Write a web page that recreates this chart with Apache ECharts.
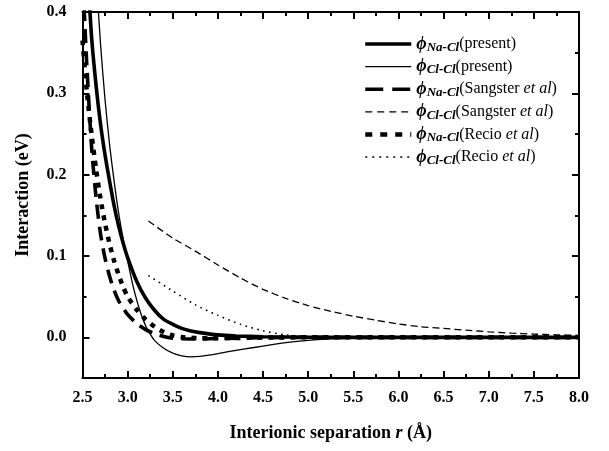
<!DOCTYPE html>
<html>
<head>
<meta charset="utf-8">
<script src="https://cdn.jsdelivr.net/npm/echarts@6/dist/echarts.min.js"></script>
<style>html,body{margin:0;padding:0;background:#fff}#c{width:609px;height:451px}</style>
</head>
<body>
<div id="c"></div>
<script>
// ---- data (r in Å, interaction in eV) ----
const naclPresentR = [2.55, 2.6, 2.65, 2.7, 2.75, 2.8, 2.85, 2.9, 2.95, 3.0, 3.1, 3.2, 3.3, 3.4, 3.5, 3.6, 3.7, 3.8, 4.0, 4.2, 4.5, 5.0, 5.5, 6.0, 7.0, 8.0];
const naclPresentV = [0.46, 0.37, 0.31, 0.262, 0.224, 0.192, 0.162, 0.137, 0.116, 0.098, 0.069, 0.048, 0.033, 0.022, 0.016, 0.011, 0.0078, 0.0058, 0.003, 0.0017, 0.0007, 0.0001, 0, 0, 0, 0];

const clclPresentR = [2.66, 2.7, 2.75, 2.8, 2.85, 2.9, 2.95, 3.0, 3.05, 3.1, 3.15, 3.2, 3.25, 3.3, 3.4, 3.5, 3.6, 3.7, 3.8, 3.9, 4.0, 4.2, 4.4, 4.6, 4.8, 5.0, 5.2, 5.5, 6.0, 7.0, 8.0];
const clclPresentV = [0.43, 0.36, 0.292, 0.237, 0.192, 0.153, 0.121, 0.094, 0.068, 0.046, 0.028, 0.014, 0.004, -0.004, -0.0135, -0.0195, -0.0228, -0.024, -0.0235, -0.022, -0.020, -0.016, -0.0125, -0.009, -0.006, -0.0037, -0.0022, -0.0009, -0.0002, 0, 0];

const naclSangsterR = [2.5, 2.52, 2.55, 2.6, 2.65, 2.7, 2.75, 2.8, 2.85, 2.9, 2.95, 3.0, 3.1, 3.2, 3.3, 3.4, 3.5, 3.6, 3.8, 4.0, 4.5, 5.0, 6.0, 7.0, 8.0];
const naclSangsterV = [0.46, 0.40, 0.33, 0.235, 0.172, 0.127, 0.097, 0.075, 0.058, 0.045, 0.036, 0.028, 0.017, 0.0095, 0.0045, 0.001, -0.001, -0.0018, -0.002, -0.0015, -0.0005, 0, 0, 0, 0];

const clclSangsterR = [3.23, 3.5, 3.75, 4.0, 4.25, 4.5, 4.75, 5.0, 5.25, 5.5, 5.75, 6.0, 6.25, 6.5, 6.75, 7.0, 7.25, 7.5, 7.75, 8.0];
const clclSangsterV = [0.143, 0.122, 0.106, 0.089, 0.073, 0.059, 0.048, 0.039, 0.032, 0.026, 0.021, 0.0165, 0.013, 0.011, 0.0088, 0.0068, 0.0052, 0.0040, 0.0031, 0.0025];

const naclRecioR = [2.5, 2.55, 2.6, 2.65, 2.7, 2.75, 2.8, 2.85, 2.9, 2.95, 3.0, 3.1, 3.2, 3.3, 3.4, 3.5, 3.6, 3.8, 4.0, 4.5, 5.0, 6.0, 7.0, 8.0];
const naclRecioV = [0.365, 0.30, 0.25, 0.207, 0.17, 0.14, 0.115, 0.094, 0.077, 0.062, 0.050, 0.034, 0.022, 0.013, 0.0065, 0.0025, 0.0003, -0.001, -0.001, -0.0003, 0, 0, 0, 0];

const clclRecioR = [3.23, 3.5, 3.75, 4.0, 4.25, 4.5, 4.75, 5.0, 5.25, 5.5];
const clclRecioV = [0.076, 0.057, 0.040, 0.027, 0.016, 0.008, 0.003, 0.001, 0.0003, 0];

const xMin = 2.5, xMax = 8.0, xStep = 0.5;
const yMin = -0.05, yMax = 0.4;
const yMajorTicks = [0, 0.1, 0.2, 0.3, 0.4];
const yMinorTicks = [0.05, 0.15, 0.25, 0.35];

const seriesNames = ['NaCl present', 'ClCl present', 'NaCl Sangster', 'ClCl Sangster', 'NaCl Recio', 'ClCl Recio'];
const legendSubs = ['Na-Cl', 'Cl-Cl', 'Na-Cl', 'Cl-Cl', 'Na-Cl', 'Cl-Cl'];
const legendRefs = ['present', 'present', 'Sangster', 'Sangster', 'Recio', 'Recio'];

// ---- chart ----
const FONT = '"Liberation Serif", "Times New Roman", serif';
const pairs = (r, v) => r.map((x, i) => [x, v[i]]);

const styles = [
  { width: 3.6, type: 'solid', legendType: 'solid' },
  { width: 1.3, type: 'solid', legendType: 'solid' },
  { width: 3.6, type: [14, 8], legendType: [18, 9] },
  { width: 1.3, type: [7, 4], legendType: [7, 5] },
  { width: 4.5, type: [5, 6], legendType: [7, 8] },
  { width: 1.6, type: [1.6, 4.5], legendType: [2, 5] }
];
const datasets = [
  pairs(naclPresentR, naclPresentV),
  pairs(clclPresentR, clclPresentV),
  pairs(naclSangsterR, naclSangsterV),
  pairs(clclSangsterR, clclSangsterV),
  pairs(naclRecioR, naclRecioV),
  pairs(clclRecioR, clclRecioV)
];

const series = seriesNames.map((n, i) => ({
  name: n,
  type: 'line',
  data: datasets[i],
  xAxisIndex: 0,
  yAxisIndex: 0,
  showSymbol: false,
  symbol: 'none',
  smooth: 0.25,
  clip: true,
  lineStyle: { color: '#000', width: styles[i].width, type: styles[i].type, cap: 'butt' },
  itemStyle: { color: '#000' },
  z: 3
}));

const axisLineStyle = { show: true, onZero: false, lineStyle: { color: '#000', width: 2 } };
const labelStyle = { color: '#000', fontFamily: FONT, fontWeight: 'bold', fontSize: 16 };

function yAxisDef(pos, ticks, len, showLabel) {
  return {
    type: 'value', position: pos, min: yMin, max: yMax, interval: 0.05,
    axisLine: axisLineStyle,
    axisTick: { show: true, inside: true, length: len, customValues: ticks, lineStyle: { color: '#000', width: 2 } },
    axisLabel: showLabel ? Object.assign({ show: true, margin: 16, customValues: yMajorTicks, formatter: v => v.toFixed(1) }, labelStyle) : { show: false },
    splitLine: { show: false },
    name: showLabel ? 'Interaction (eV)' : '',
    nameLocation: 'middle',
    nameGap: 50,
    nameRotate: 90,
    nameTextStyle: { color: '#000', fontFamily: FONT, fontWeight: 'bold', fontSize: 18 }
  };
}

const option = {
  animation: false,
  backgroundColor: '#fff',
  grid: { left: 82.5, right: 30, top: 12, bottom: 73 },
  xAxis: [
    {
      type: 'value', position: 'bottom', min: xMin, max: xMax, interval: xStep,
      axisLine: axisLineStyle,
      axisTick: { show: true, inside: true, length: 7, lineStyle: { color: '#000', width: 2 } },
      minorTick: { show: true, splitNumber: 2, length: 4, lineStyle: { color: '#000', width: 2 } },
      axisLabel: Object.assign({ margin: 12, formatter: v => v.toFixed(1) }, labelStyle),
      splitLine: { show: false },
      name: '{b|Interionic separation }{i|r}{b| (Å)}',
      nameLocation: 'middle',
      nameGap: 46,
      nameTextStyle: {
        rich: {
          b: { color: '#000', fontFamily: FONT, fontWeight: 'bold', fontSize: 18 },
          i: { color: '#000', fontFamily: FONT, fontWeight: 'bold', fontStyle: 'italic', fontSize: 18 }
        }
      }
    },
    {
      type: 'value', position: 'top', min: xMin, max: xMax, interval: xStep,
      axisLine: axisLineStyle,
      axisTick: { show: true, inside: true, length: 7, lineStyle: { color: '#000', width: 2 } },
      minorTick: { show: true, splitNumber: 2, length: 4, lineStyle: { color: '#000', width: 2 } },
      axisLabel: { show: false },
      splitLine: { show: false }
    }
  ],
  yAxis: [
    yAxisDef('left', yMajorTicks, 7, true),
    yAxisDef('left', yMinorTicks, 4, false),
    yAxisDef('right', yMajorTicks, 7, false),
    yAxisDef('right', yMinorTicks, 4, false)
  ],
  legend: {
    orient: 'vertical',
    left: 358,
    top: 30,
    itemWidth: 46,
    itemHeight: 14,
    itemGap: 3.6,
    itemStyle: { color: 'rgba(0,0,0,0)', opacity: 0, borderWidth: 0 },
    lineStyle: { width: 'inherit', cap: 'butt' },
    data: seriesNames.map((n, i) => ({
      name: n,
      itemStyle: { color: 'rgba(0,0,0,0)', opacity: 0, borderWidth: 0 },
      lineStyle: { color: '#000', width: styles[i].width, type: styles[i].legendType, cap: 'butt', opacity: 1 }
    })),
    formatter: function (name) {
      const i = seriesNames.indexOf(name);
      const ref = legendRefs[i];
      let tail = ref === 'present' ? '{n|(present)}' : '{n|(' + ref + ' }{it|et al}{n|)}';
      return '{phi|\u03D5}{sub|' + legendSubs[i] + '}' + tail;
    },
    textStyle: {
      rich: {
        phi: { fontFamily: FONT, fontStyle: 'italic', fontWeight: 'bold', fontSize: 18, color: '#000', lineHeight: 20, verticalAlign: 'middle' },
        sub: { fontFamily: FONT, fontStyle: 'italic', fontWeight: 'bold', fontSize: 13, color: '#000', lineHeight: 20, verticalAlign: 'bottom' },
        n: { fontFamily: FONT, fontSize: 16, color: '#000', lineHeight: 20, verticalAlign: 'middle' },
        it: { fontFamily: FONT, fontStyle: 'italic', fontSize: 16, color: '#000', lineHeight: 20, verticalAlign: 'middle' }
      }
    }
  },
  series: series
};

const chart = echarts.init(document.getElementById('c'), null, { renderer: 'canvas' });
chart.setOption(option);
</script>
</body>
</html>
